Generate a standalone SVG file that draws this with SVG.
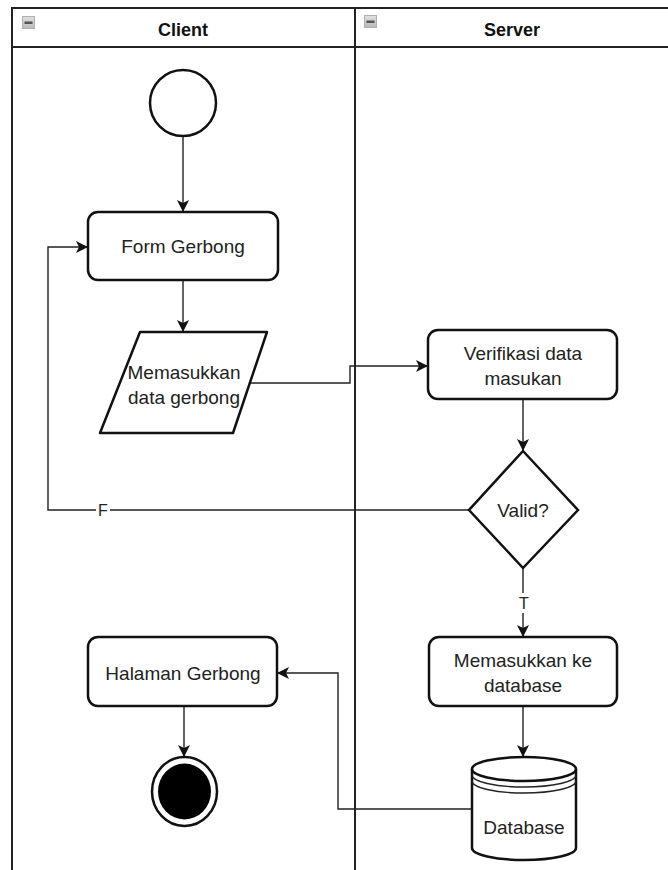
<svg xmlns="http://www.w3.org/2000/svg" width="668" height="870" viewBox="0 0 668 870">
<style>
.lane{stroke:#222;stroke-width:2;fill:none}
.shape{fill:#fff;stroke:#111;stroke-width:2.5}
.conn{fill:none;stroke:#222;stroke-width:1.4}
.txt{font-family:"Liberation Sans",Arial,sans-serif;font-size:19px;fill:#222;text-anchor:middle}
.hdr{font-family:"Liberation Sans",Arial,sans-serif;font-size:18px;font-weight:bold;fill:#111;text-anchor:middle}
.lbl{font-family:"Liberation Sans",Arial,sans-serif;font-size:16px;fill:#222;text-anchor:middle}
.icon{fill:url(#ig);stroke:#b0b0b0;stroke-width:1}
</style>
<defs>
<linearGradient id="ig" x1="0" y1="0" x2="0" y2="1">
<stop offset="0" stop-color="#e2e2e2"/>
<stop offset="1" stop-color="#b8b8b8"/>
</linearGradient>
<marker id="arr" viewBox="0 0 12 12" refX="11" refY="6" markerWidth="12" markerHeight="12" markerUnits="userSpaceOnUse" orient="auto">
<path d="M0,0 L12,6 L0,12 L3,6 z" fill="#111"/>
</marker>
</defs>
<rect width="668" height="870" fill="#fff"/>
<g id="pool">
<line class="lane" x1="12" y1="8" x2="12" y2="870"/>
<line class="lane" x1="11" y1="8" x2="668" y2="8"/>
<line class="lane" x1="12" y1="47" x2="668" y2="47"/>
<line class="lane" x1="355" y1="8" x2="355" y2="870"/>
</g>
<g id="lane-client">
<rect class="icon" x="22.5" y="16.5" width="12" height="12"/>
<rect x="24.5" y="21.5" width="8" height="2.5" fill="#555"/>
<text class="hdr" x="183" y="36">Client</text>
</g>
<g id="lane-server">
<rect class="icon" x="364.5" y="15.5" width="12" height="12"/>
<rect x="366.5" y="20.5" width="8" height="2.5" fill="#555"/>
<text class="hdr" x="512" y="36">Server</text>
</g>
<g id="connectors">
<line class="conn" x1="183" y1="136" x2="183" y2="211" marker-end="url(#arr)"/>
<line class="conn" x1="183" y1="280" x2="183" y2="331" marker-end="url(#arr)"/>
<path class="conn" d="M250,383 H350 V366 H427" marker-end="url(#arr)"/>
<line class="conn" x1="523" y1="399" x2="523" y2="450" marker-end="url(#arr)"/>
<path class="conn" d="M469,510 H48 V247 H87" marker-end="url(#arr)"/>
<line class="conn" x1="523" y1="568" x2="523" y2="636" marker-end="url(#arr)"/>
<line class="conn" x1="523" y1="706" x2="523" y2="756" marker-end="url(#arr)"/>
<line class="conn" x1="184" y1="706" x2="184" y2="756" marker-end="url(#arr)"/>
<path class="conn" d="M472,809 H338 V673 H278" marker-end="url(#arr)"/>
<rect x="96" y="500" width="14" height="20" fill="#fff"/>
<text class="lbl" x="103" y="516">F</text>
<rect x="517" y="593" width="14" height="20" fill="#fff"/>
<text class="lbl" x="524" y="609">T</text>
</g>
<g id="start">
<circle class="shape" cx="183" cy="103" r="33"/>
</g>
<g id="form-gerbong">
<rect class="shape" x="88" y="212" width="190" height="68" rx="10"/>
<text class="txt" x="183" y="253">Form Gerbong</text>
</g>
<g id="memasukkan-data">
<path class="shape" d="M140,332 H267 L233,433 H100 Z" stroke-linejoin="round"/>
<text class="txt" x="184" y="379">Memasukkan</text>
<text class="txt" x="184" y="404">data gerbong</text>
</g>
<g id="verifikasi">
<rect class="shape" x="428" y="330" width="189" height="69" rx="10"/>
<text class="txt" x="523" y="360">Verifikasi data</text>
<text class="txt" x="523" y="385">masukan</text>
</g>
<g id="valid">
<path class="shape" d="M523,451 L578,510 L523,568 L469,510 Z"/>
<text class="txt" x="523" y="517">Valid?</text>
</g>
<g id="memasukkan-db">
<rect class="shape" x="429" y="637" width="188" height="69" rx="10"/>
<text class="txt" x="523" y="667">Memasukkan ke</text>
<text class="txt" x="523" y="692">database</text>
</g>
<g id="halaman-gerbong">
<rect class="shape" x="88" y="637" width="189" height="69" rx="10"/>
<text class="txt" x="183" y="680">Halaman Gerbong</text>
</g>
<g id="end">
<ellipse class="shape" cx="184.5" cy="791.5" rx="32.5" ry="34.5" stroke-width="2"/>
<ellipse cx="184.5" cy="791.5" rx="26.5" ry="28" fill="#000"/>
</g>
<g id="database">
<path class="shape" d="M472,769 A52,12 0 0 1 576,769 V848 A52,12 0 0 1 472,848 Z"/>
<path class="shape" fill="none" d="M472,769 A52,12 0 0 0 576,769"/>
<path class="conn" stroke-width="2" d="M472,775 A52,12 0 0 0 576,775"/>
<path class="conn" stroke-width="2" d="M472,781 A52,12 0 0 0 576,781"/>
<text class="txt" x="524" y="834">Database</text>
</g>
</svg>
